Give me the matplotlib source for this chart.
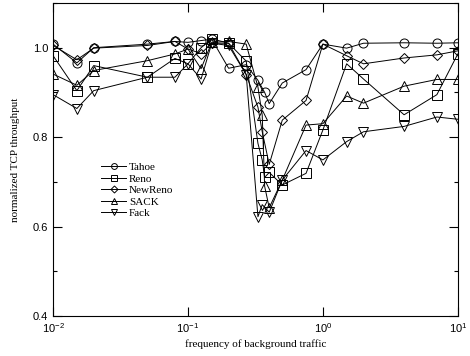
import matplotlib
matplotlib.use("Agg")
import matplotlib.pyplot as plt
from matplotlib.ticker import MultipleLocator, NullLocator, FormatStrFormatter

plt.rcParams['font.family'] = ['Liberation Sans', 'DejaVu Sans']
plt.rcParams['mathtext.fontset'] = 'custom'
plt.rcParams['mathtext.rm'] = 'Liberation Sans'

# data
tahoe_x = [0.01, 0.015, 0.02, 0.05, 0.08, 0.1, 0.125, 0.15, 0.2, 0.27, 0.33, 0.37, 0.4, 0.5, 0.75, 1, 1.5, 2, 4, 7, 10]
tahoe_y = [1.008, 0.966, 1.0, 1.008, 1.014, 1.012, 1.016, 1.019, 0.954, 0.962, 0.927, 0.90, 0.875, 0.921, 0.951, 1.008, 0.999, 1.01, 1.011, 1.01, 1.011]

reno_x = [0.01, 0.015, 0.02, 0.05, 0.08, 0.1, 0.125, 0.15, 0.2, 0.27, 0.33, 0.355, 0.37, 0.4, 0.5, 0.75, 1, 1.5, 2, 4, 7, 10]
reno_y = [0.982, 0.904, 0.96, 0.934, 0.976, 0.964, 1.0, 1.02, 1.01, 0.97, 0.786, 0.749, 0.71, 0.721, 0.693, 0.719, 0.816, 0.964, 0.93, 0.85, 0.895, 0.986]

newreno_x = [0.01, 0.015, 0.02, 0.05, 0.08, 0.1, 0.125, 0.15, 0.2, 0.27, 0.33, 0.355, 0.4, 0.5, 0.75, 1, 1.5, 2, 4, 7, 10]
newreno_y = [1.005, 0.973, 0.999, 1.005, 1.014, 0.997, 0.987, 1.01, 1.01, 0.94, 0.867, 0.812, 0.739, 0.838, 0.882, 1.008, 0.982, 0.964, 0.977, 0.984, 0.993]

sack_x = [0.01, 0.015, 0.02, 0.05, 0.08, 0.1, 0.125, 0.15, 0.2, 0.27, 0.33, 0.355, 0.37, 0.4, 0.5, 0.75, 1, 1.5, 2, 4, 7, 10]
sack_y = [0.941, 0.916, 0.949, 0.971, 0.986, 0.997, 0.953, 1.012, 1.014, 1.008, 0.912, 0.849, 0.69, 0.642, 0.704, 0.827, 0.83, 0.892, 0.876, 0.914, 0.929, 0.929]

fack_x = [0.01, 0.015, 0.02, 0.05, 0.08, 0.1, 0.125, 0.15, 0.2, 0.27, 0.33, 0.355, 0.4, 0.5, 0.75, 1, 1.5, 2, 4, 7, 10]
fack_y = [0.895, 0.864, 0.904, 0.934, 0.934, 0.964, 0.93, 1.01, 1.005, 0.94, 0.622, 0.649, 0.632, 0.704, 0.77, 0.749, 0.79, 0.812, 0.824, 0.845, 0.84]

series = [
    ("Tahoe", tahoe_x, tahoe_y, "o"),
    ("Reno", reno_x, reno_y, "s"),
    ("NewReno", newreno_x, newreno_y, "D"),
    ("SACK", sack_x, sack_y, "^"),
    ("Fack", fack_x, fack_y, "v"),
]

fig = plt.figure(figsize=(4.70, 3.56), dpi=100)
ax = fig.add_axes([0.113, 0.1124, 0.861, 0.8792])

for name, xs, ys, m in series:
    ms = 5.5 if m == "D" else 6.5
    ax.plot(xs, ys, color="black", lw=0.7, marker=m, ms=ms, mfc="none",
            mec="black", mew=0.7, label=name)

ax.set_xscale("log")
ax.set_xlim(0.01, 10)
ax.set_ylim(0.4, 1.1)
ax.xaxis.set_minor_locator(NullLocator())
ax.yaxis.set_major_locator(MultipleLocator(0.2))
ax.yaxis.set_minor_locator(MultipleLocator(0.1))
ax.yaxis.set_major_formatter(FormatStrFormatter("%.1f"))

ax.tick_params(which="both", direction="in", top=True, right=True, labelsize=8, width=0.8)
ax.tick_params(which="major", length=6.5)
ax.tick_params(which="minor", length=3)
for s in ax.spines.values():
    s.set_linewidth(0.8)

serif = ['Liberation Serif', 'DejaVu Serif']
ax.set_xlabel("frequency of background traffic", family=serif, fontsize=8, labelpad=3)
ax.set_ylabel("normalized TCP throughput", family=serif, fontsize=8, labelpad=9)

ax.legend(loc="upper left", bbox_to_anchor=(0.1, 0.515), frameon=False,
          prop={'family': serif, 'size': 8}, handlelength=2.2, handletextpad=0.3,
          labelspacing=0.15, markerscale=0.65, borderpad=0.2)

fig.savefig("out.png", dpi=100)
